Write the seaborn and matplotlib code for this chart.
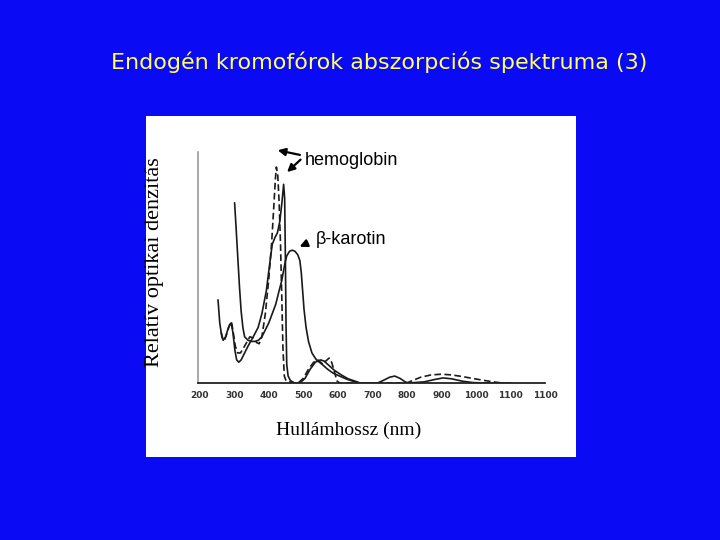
import pandas as pd
import seaborn as sns
import matplotlib.pyplot as plt

sns.set_theme(style="white")
plt.rcParams["font.family"] = ["DejaVu Sans"]

# wavelength (nm) / relative optical density
hb_solid_nm = [253, 258, 264, 268, 275, 283, 291, 296, 302, 307, 313, 320, 330, 340,
               355, 369, 380, 393, 403, 410, 418, 425, 432, 438, 443, 446, 448, 450,
               452, 456, 463, 475, 490, 505, 520, 535, 550, 560, 575, 590, 610, 630,
               650, 665, 700, 715, 730, 750, 765, 780, 795, 805, 850, 880, 905, 930,
               960, 990, 1020, 1100]
hb_solid_od = [0.36, 0.26, 0.20, 0.185, 0.20, 0.24, 0.26, 0.22, 0.14, 0.10, 0.09, 0.10,
               0.13, 0.16, 0.20, 0.24, 0.30, 0.40, 0.52, 0.60, 0.63, 0.65, 0.70, 0.78,
               0.86, 0.80, 0.55, 0.25, 0.08, 0.03, 0.01, 0.0, 0.0, 0.02, 0.06, 0.09,
               0.10, 0.095, 0.075, 0.055, 0.035, 0.018, 0.008, 0.0, 0.0, 0.0, 0.01,
               0.025, 0.03, 0.02, 0.005, 0.0, 0.005, 0.015, 0.022, 0.018, 0.008,
               0.002, 0.0, 0.0]

hb_dashed_nm = [262, 268, 273, 280, 288, 292, 297, 303, 310, 318, 330, 345, 355, 365,
                372, 380, 390, 400, 408, 414, 419, 422, 426, 430, 434, 438, 441, 445,
                450, 470, 485, 500, 515, 530, 542, 550, 557, 565, 575, 582, 590, 597,
                605, 800, 815, 840, 870, 900, 930, 960, 990, 1020, 1050, 1075]
hb_dashed_od = [0.22, 0.185, 0.19, 0.22, 0.26, 0.265, 0.22, 0.16, 0.13, 0.13, 0.16,
                0.20, 0.195, 0.175, 0.17, 0.20, 0.30, 0.45, 0.60, 0.75, 0.88, 0.935,
                0.90, 0.78, 0.60, 0.35, 0.15, 0.03, 0.01, 0.0, 0.0, 0.02, 0.06, 0.09,
                0.10, 0.09, 0.08, 0.095, 0.108, 0.09, 0.05, 0.01, 0.0, 0.0, 0.01,
                0.025, 0.035, 0.038, 0.035, 0.028, 0.02, 0.012, 0.005, 0.0]

carotene_nm = [301, 305, 310, 315, 320, 325, 330, 340, 350, 360, 370, 380, 390, 400,
               410, 420, 430, 437, 442, 447, 452, 460, 468, 476, 484, 490, 494, 498,
               502, 508, 515, 525, 538, 555, 570, 586, 605, 625, 645, 660]
carotene_od = [0.78, 0.68, 0.55, 0.42, 0.31, 0.24, 0.20, 0.185, 0.18, 0.18, 0.185,
               0.20, 0.23, 0.26, 0.30, 0.34, 0.40, 0.44, 0.48, 0.52, 0.55, 0.57,
               0.575, 0.57, 0.555, 0.53, 0.48, 0.40, 0.32, 0.24, 0.18, 0.13, 0.10,
               0.08, 0.06, 0.043, 0.03, 0.017, 0.007, 0.0]

ticks = [200, 300, 400, 500, 600, 700, 800, 900, 1000, 1100, 1200]
tick_labels = ["200", "300", "400", "500", "600", "700", "800", "900", "1000", "1100", "1100"]

title = "Endogén kromofórok abszorpciós spektruma (3)"
ylab = "Relatív optikai denzitás"
xlab = "Hullámhossz (nm)"

W, H = 720, 540
fig = plt.figure(figsize=(7.2, 5.4), dpi=100, facecolor="#0a0af5")

# white scanned panel
panel = fig.add_axes([146 / W, 1 - 457 / H, 430 / W, 341 / H])
panel.set_facecolor("white")
panel.set_xticks([])
panel.set_yticks([])
for s in panel.spines.values():
    s.set_visible(False)

ax = fig.add_axes([198 / W, 1 - 383 / H, (545 - 198) / W, (383 - 152) / H])
ax.patch.set_alpha(0)

line_kw = dict(color="#1a1a1a", linewidth=1.2, ax=ax, legend=False)
sns.lineplot(x=hb_solid_nm, y=hb_solid_od, **line_kw)
sns.lineplot(x=hb_dashed_nm, y=hb_dashed_od, linestyle=(0, (4, 2)), **line_kw)
sns.lineplot(x=carotene_nm, y=carotene_od, **line_kw)

ax.set_xlim(195, 1200)
ax.set_ylim(0, 1)
ax.set_xticks(ticks)
ax.set_xticklabels(tick_labels, fontsize=6.5, fontweight="bold", color="#333333")
ax.set_yticks([])
ax.tick_params(axis="x", direction="out", length=3, width=0.8, color="#444444", pad=3)
ax.spines["top"].set_visible(False)
ax.spines["right"].set_visible(False)
ax.spines["left"].set_color("#999999")
ax.spines["left"].set_linewidth(1.2)
ax.spines["bottom"].set_color("#222222")
ax.spines["bottom"].set_linewidth(1.3)

# labels
arrow = dict(arrowstyle="-|>", color="black", lw=1.6, mutation_scale=11)
ax.annotate("", xy=(418, 1.01), xytext=(498, 0.985), arrowprops=arrow, annotation_clip=False)
ax.annotate("", xy=(447, 0.905), xytext=(498, 0.975), arrowprops=arrow, annotation_clip=False)
ax.text(505, 0.965, "hemoglobin", fontsize=13, family="Liberation Sans", va="center",
        ha="left", clip_on=False, color="black")
ax.annotate("", xy=(482, 0.585), xytext=(519, 0.61), arrowprops=arrow, annotation_clip=False)
ax.text(537, 0.623, "β-karotin", fontsize=13, family="Liberation Sans", va="center",
        ha="left", clip_on=False, color="black")

fig.text(155 / W, 1 - 262 / H, ylab, rotation=90, fontsize=16, family="Liberation Serif",
         ha="center", va="center", color="black")
fig.text(349 / W, 1 - 430 / H, xlab, fontsize=14, family="Liberation Serif",
         ha="center", va="center", color="black")
fig.text(379 / W, 1 - 62 / H, title, fontsize=16, color="#ffff66", ha="center", va="center")

fig.savefig("out.png", dpi=100, facecolor=fig.get_facecolor())
